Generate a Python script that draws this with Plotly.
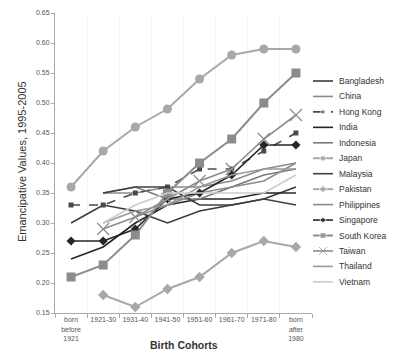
import plotly.graph_objects as go

cohorts = ["born<br>before<br>1921", "1921-30", "1931-40", "1941-50",
           "1951-60", "1961-70", "1971-80", "born<br>after<br>1980"]

countries = ["Bangladesh", "China", "Hong Kong", "India", "Indonesia", "Japan",
             "Malaysia", "Pakistan", "Philippines", "Singapore", "South Korea",
             "Taiwan", "Thailand", "Vietnam"]

bangladesh = [0.30, 0.33, 0.32, 0.30, 0.32, 0.33, 0.34, 0.36]
china = [None, 0.35, 0.35, 0.36, 0.36, 0.37, 0.39, 0.40]
hong_kong = [0.33, 0.33, 0.35, 0.36, 0.39, 0.39, 0.42, 0.45]
india = [0.24, 0.26, 0.30, 0.33, 0.34, 0.34, 0.35, 0.35]
indonesia = [None, 0.35, 0.36, 0.34, 0.34, 0.36, 0.38, 0.39]
japan = [0.36, 0.42, 0.46, 0.49, 0.54, 0.58, 0.59, 0.59]
malaysia = [None, 0.35, 0.36, 0.36, 0.33, 0.33, 0.34, 0.33]
pakistan = [None, 0.18, 0.16, 0.19, 0.21, 0.25, 0.27, 0.26]
philippines = [None, None, 0.31, 0.33, 0.35, 0.36, 0.37, 0.40]
singapore = [0.27, 0.27, 0.29, 0.34, 0.35, 0.38, 0.43, 0.43]
south_korea = [0.21, 0.23, 0.28, 0.35, 0.40, 0.44, 0.50, 0.55]
taiwan = [None, 0.29, 0.31, 0.34, 0.37, 0.39, 0.44, 0.48]
thailand = [None, 0.30, 0.32, 0.33, 0.36, 0.38, 0.39, 0.39]
vietnam = [None, 0.30, 0.33, 0.35, 0.35, 0.35, 0.35, 0.38]

series = [bangladesh, china, hong_kong, india, indonesia, japan, malaysia,
          pakistan, philippines, singapore, south_korea, taiwan, thailand, vietnam]

# style: color, dash, marker symbol, marker size (plot), marker size (legend), width
styles = [
    ("#3a3a3a", "solid", None, 0, 0, 1.6),
    ("#8a8a8a", "solid", None, 0, 0, 1.6),
    ("#4a4a4a", "dash", "square", 5, 4, 1.6),
    ("#252525", "solid", None, 0, 0, 1.6),
    ("#7a7a7a", "solid", None, 0, 0, 1.6),
    ("#a8a8a8", "solid", "circle", 9, 6, 2.0),
    ("#404040", "solid", None, 0, 0, 1.6),
    ("#a8a8a8", "solid", "diamond", 8, 6, 2.0),
    ("#8c8c8c", "solid", None, 0, 0, 1.6),
    ("#262626", "solid", "diamond", 7, 5, 1.6),
    ("#8c8c8c", "solid", "square", 9, 6, 2.0),
    ("#8c8c8c", "solid", "x-thin-open", 12, 8, 1.6),
    ("#9a9a9a", "solid", None, 0, 0, 1.6),
    ("#cbcbcb", "solid", None, 0, 0, 1.6),
]

FONT = "Liberation Sans, Arial, sans-serif"

fig = go.Figure()
for name, vals, st in zip(countries, series, styles):
    color, dash, sym, msize, lsize, w = st
    mode = "lines+markers" if sym else "lines"
    marker = dict(color=color, size=msize, symbol=sym or "circle")
    if sym == "x-thin-open":
        marker["line"] = dict(color=color, width=1.2)
    fig.add_trace(go.Scatter(x=cohorts, y=vals, name=name, mode=mode,
                             line=dict(color=color, width=w, dash=dash),
                             marker=marker, xaxis="x", yaxis="y",
                             showlegend=False))

# manual legend (pixel-space overlay axes)
leg_top = 81
leg_step = 15.45
for i, (name, st) in enumerate(zip(countries, styles)):
    color, dash, sym, msize, lsize, w = st
    yy = leg_top + i * leg_step
    marker = dict(color=color, size=[0, lsize, 0], symbol=sym or "circle")
    if sym == "x-thin-open":
        marker["line"] = dict(color=color, width=1)
    fig.add_trace(go.Scatter(x=[313, 323, 333], y=[yy] * 3,
                             mode="lines+markers" if sym else "lines",
                             line=dict(color=color, width=w, dash="dash" if dash == "dash" else "solid"),
                             marker=marker, xaxis="x2", yaxis="y2",
                             showlegend=False, hoverinfo="skip", cliponaxis=False))
    fig.add_annotation(x=337, y=yy, xref="x2", yref="y2", text=name,
                       showarrow=False, xanchor="left", yanchor="middle",
                       font=dict(family=FONT, size=8.5, color="#333"))

main_frac = 257 / 349

fig.add_annotation(x=main_frac / 2, y=(313 - 345) / 300, xref="paper", yref="paper",
                   text="<b>Birth Cohorts</b>", showarrow=False,
                   xanchor="center", yanchor="middle",
                   font=dict(family=FONT, size=10.5, color="#333"))
fig.add_annotation(x=(22 - 55) / 349, y=(313 - 162) / 300, xref="paper", yref="paper",
                   text="Emancipative Values, 1995-2005", showarrow=False, textangle=-90,
                   xanchor="center", yanchor="middle",
                   font=dict(family=FONT, size=11, color="#333"))

fig.update_layout(
    width=404, height=358,
    margin=dict(l=55, r=0, t=13, b=45),
    paper_bgcolor="white", plot_bgcolor="white",
    showlegend=False,
    font=dict(family=FONT, color="#444"),
    xaxis=dict(domain=[0, main_frac], type="category", range=[-0.5, 7.5],
               tickson="boundaries", ticks="outside", ticklen=4, tickcolor="#aaa",
               showline=True, linecolor="#aaa", linewidth=1,
               showgrid=True, gridcolor="#f4f4f4",
               tickfont=dict(size=7, color="#555"), zeroline=False, tickangle=0),
    yaxis=dict(range=[0.15, 0.65], dtick=0.05, tickformat=".2f",
               ticks="outside", ticklen=3, tickcolor="#aaa",
               showline=True, linecolor="#aaa", linewidth=1, showgrid=False,
               tickfont=dict(size=7, color="#555"), zeroline=False),
    xaxis2=dict(domain=[main_frac, 1], anchor="y2", range=[312, 404], visible=False),
    yaxis2=dict(domain=[0, 1], anchor="x2", range=[313, 13], visible=False),
)

fig.write_html("out.html", config={"displayModeBar": False},
               post_script="document.body.style.margin='0';document.body.style.overflow='hidden';")
